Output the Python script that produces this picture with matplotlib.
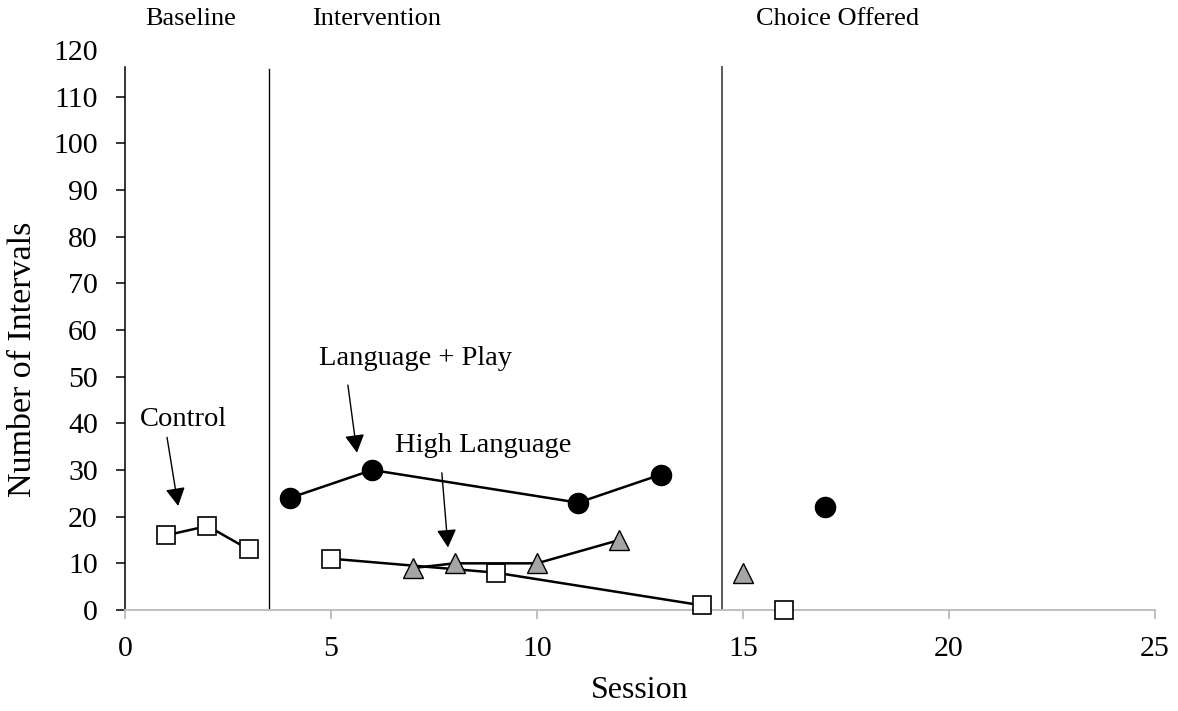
import numpy as np
import matplotlib
matplotlib.use("Agg")
import matplotlib.pyplot as plt

plt.rcParams['font.family'] = ['Liberation Serif', 'DejaVu Serif']

# ---- data ----
control_sessions = [1, 2, 3, 5, 9, 14, 16]
control_values = [16, 18, 13, 11, 8, 1, 0]

langplay_sessions = [4, 6, 11, 13, 17]
langplay_values = [24, 30, 23, 29, 22]

highlang_sessions = [7, 8, 10, 12, 15]
highlang_values = [9, 10, 10, 15, 8]

phase_changes = [3.5, 14.5]
phase_names = ["Baseline", "Intervention", "Choice Offered"]
phase_label_x = [1.6, 6.1, 17.3]

x_ticks = [0, 5, 10, 15, 20, 25]
y_ticks = list(range(0, 121, 10))

W, H = 1178, 711
fig = plt.figure(figsize=(W / 100, H / 100), dpi=100)
ax = fig.add_axes([125 / W, 101 / H, 1030 / W, 560 / H])
ax.set_xlim(0, 25)
ax.set_ylim(0, 120)


def phase_of(s):
    return int(np.searchsorted(phase_changes, s))


def draw_series(xs, ys, **style):
    xs = np.asarray(xs, float)
    ys = np.asarray(ys, float)
    ph = np.array([phase_of(s) for s in xs])
    for p in np.unique(ph):
        m = ph == p
        ax.plot(xs[m], ys[m], color='black', lw=1.8, clip_on=False, **style)


draw_series(langplay_sessions, langplay_values, marker='o', markersize=14.5,
            markerfacecolor='black', markeredgecolor='black', zorder=3)
draw_series(control_sessions, control_values, marker='s', markersize=13.2,
            markerfacecolor='white', markeredgecolor='black', markeredgewidth=1.2, zorder=4)
draw_series(highlang_sessions, highlang_values, marker='^', markersize=15,
            markerfacecolor='#a5a5a5', markeredgecolor='black', markeredgewidth=1.0, zorder=5)

# phase change lines
ax.plot([phase_changes[0]] * 2, [0, 116], color='black', lw=1.0, zorder=2)
ax.plot([phase_changes[1]] * 2, [0, 116.4], color='#595959', lw=1.4, zorder=2)

# phase labels
for name, px in zip(phase_names, phase_label_x):
    ax.text(px, 126.6, name, ha='center', va='center', fontsize=19, clip_on=False)

# series annotations
arrow = dict(arrowstyle='-|>,head_length=0.55,head_width=0.3', color='black',
             lw=1.0, mutation_scale=20, shrinkA=0, shrinkB=0)
ax.text(1.41, 40.8, "Control", ha='center', va='center', fontsize=20.5)
ax.annotate('', xy=(1.29, 22.3), xytext=(1.02, 37.0), arrowprops=arrow)
ax.text(7.06, 53.8, "Language + Play", ha='center', va='center', fontsize=20.5)
ax.annotate('', xy=(5.63, 33.7), xytext=(5.41, 48.2), arrowprops=arrow)
ax.text(8.69, 35.2, "High Language", ha='center', va='center', fontsize=20.5)
ax.annotate('', xy=(7.84, 13.4), xytext=(7.69, 29.4), arrowprops=arrow)

# spines
for s in ['top', 'right']:
    ax.spines[s].set_visible(False)
ax.spines['left'].set_color('black')
ax.spines['left'].set_linewidth(1.1)
ax.spines['left'].set_bounds(0, 116.4)
ax.spines['bottom'].set_color('#bfbfbf')
ax.spines['bottom'].set_linewidth(1.4)

ax.set_xticks(x_ticks)
ax.set_yticks(y_ticks)
ax.tick_params(axis='y', direction='out', length=6.5, width=1.1, color='black',
               labelsize=21.5, pad=13)
ax.tick_params(axis='x', direction='out', length=6.5, width=1.4, color='#bfbfbf',
               labelsize=21.5, pad=12)
ax.yaxis.get_major_ticks()[-1].tick1line.set_visible(False)

fig.text(640 / W, 1 - 690 / H, "Session", ha='center', va='center', fontsize=23)
fig.text(23 / W, 1 - 359 / H, "Number of Intervals", ha='center', va='center',
         rotation=90, fontsize=24.5)

fig.savefig("out.png", dpi=100)
